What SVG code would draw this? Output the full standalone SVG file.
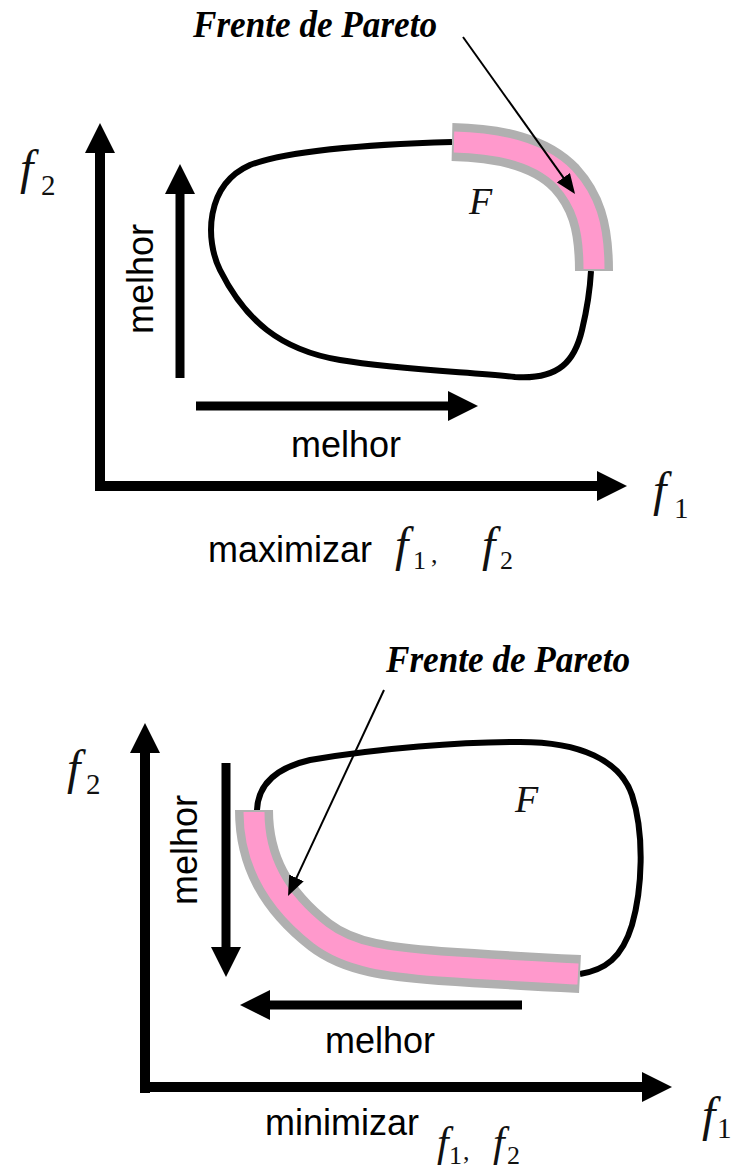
<svg xmlns="http://www.w3.org/2000/svg" width="732" height="1169" viewBox="0 0 732 1169">
<defs>
<marker id="head" markerUnits="userSpaceOnUse" viewBox="0 0 30 30" refX="10" refY="15" markerWidth="30" markerHeight="30" orient="auto">
<path d="M0,0 L30,15 L0,30 Z" fill="#000"/>
</marker>
<marker id="ptr" markerUnits="userSpaceOnUse" viewBox="0 0 20 16" refX="16" refY="8" markerWidth="20" markerHeight="16" orient="auto">
<path d="M0,0 L20,8 L0,16 Z" fill="#000"/>
</marker>
</defs>
<style>
.axis{fill:none;stroke:#000;stroke-width:10;marker-end:url(#head)}
.inner{fill:none;stroke:#000;stroke-width:9;marker-end:url(#head)}
.ptr{fill:none;stroke:#000;stroke-width:2;marker-end:url(#ptr)}
.region{fill:none;stroke:#000;stroke-width:6}
.bandOuter{fill:none;stroke:#b0b0b0;stroke-width:38;stroke-linecap:butt}
.bandInner{fill:none;stroke:#ff99cc;stroke-width:21;stroke-linecap:butt}
.title{font-family:"Liberation Serif",serif;font-weight:bold;font-style:italic;font-size:37px;fill:#000}
.sans{font-family:"Liberation Sans",Arial,sans-serif;font-size:36px;fill:#000}
.math{font-family:"Liberation Serif",serif;font-style:italic;font-size:48px;fill:#111}
.mathc{font-family:"Liberation Serif",serif;font-style:italic;font-size:42px;fill:#111}
.sub{font-family:"Liberation Serif",serif;font-size:29px;fill:#111}
.subc{font-family:"Liberation Serif",serif;font-size:26px;fill:#111}
.F{font-family:"Liberation Serif",serif;font-style:italic;font-size:38px;fill:#111}
</style>

<!-- ===== Top diagram: maximizar ===== -->
<g id="top-region">
<path class="region" d="M452,142 C380,144 290,150 250,165 C205,185 205,240 220,270 C245,320 280,350 340,360 C400,370 470,372 515,377 C560,380 575,360 582,330 C588,305 590,290 591,271"/>
</g>
<g id="top-pareto-front">
<path class="bandOuter" d="M452,142 C500,143 540,152 565,178 C585,200 594,225 594,271"/>
<path class="bandInner" d="M454,142 C500,143 540,152 565,178 C585,200 594,225 594,269"/>
</g>
<g id="top-labels">
<text class="title" x="193" y="37" textLength="244" lengthAdjust="spacingAndGlyphs">Frente de Pareto</text>
<text class="F" x="469" y="214">F</text>
<text class="math" x="20" y="184">f</text><text class="sub" x="41" y="195">2</text>
<text class="math" x="653" y="506">f</text><text class="sub" x="674" y="518">1</text>
<text class="sans" x="153" y="279" text-anchor="middle" transform="rotate(-90 153 279)">melhor</text>
<text class="sans" x="346" y="457" text-anchor="middle">melhor</text>
<text class="sans" x="208" y="562">maximizar</text>
<text class="math" x="395" y="561">f</text><text class="subc" x="413" y="569">1</text><text class="subc" x="431" y="563">,</text>
<text class="math" x="482" y="561">f</text><text class="subc" x="500" y="569">2</text>
</g>
<g id="top-connectors">
<path class="axis" d="M100,491 L100,143"/>
<path class="axis" d="M95,486 L607,486"/>
<path class="inner" d="M180,378 L180,184"/>
<path class="inner" d="M196,406 L458,406"/>
<path class="ptr" d="M463,37 L572.7,190.7"/>
</g>

<!-- ===== Bottom diagram: minimizar ===== -->
<g id="bottom-region">
<path class="region" d="M257,810 C258,785 275,768 310,760 C380,748 460,742 520,742 C580,742 620,760 632,795 C645,835 642,890 632,925 C622,958 605,970 580,974"/>
</g>
<g id="bottom-pareto-front">
<path class="bandOuter" d="M254,810 C254,860 275,900 320,935 C350,958 390,962 440,966 C500,970 540,972 580,974"/>
<path class="bandInner" d="M254,812 C254,860 275,900 320,935 C350,958 390,962 440,966 C500,970 540,972 578,974"/>
</g>
<g id="bottom-labels">
<text class="title" x="386" y="672" textLength="244" lengthAdjust="spacingAndGlyphs">Frente de Pareto</text>
<text class="F" x="515" y="812">F</text>
<text class="math" x="67" y="784">f</text><text class="sub" x="86" y="794">2</text>
<text class="math" x="702" y="1131">f</text><text class="sub" x="717" y="1138">1</text>
<text class="sans" x="197" y="850" text-anchor="middle" transform="rotate(-90 197 850)">melhor</text>
<text class="sans" x="380" y="1053" text-anchor="middle">melhor</text>
<text class="sans" x="265" y="1135">minimizar</text>
<text class="mathc" x="437" y="1156">f</text><text class="subc" x="449" y="1164">1</text><text class="subc" x="463" y="1160">,</text>
<text class="mathc" x="493" y="1156">f</text><text class="subc" x="507" y="1164">2</text>
</g>
<g id="bottom-connectors">
<path class="axis" d="M145,1093 L145,743"/>
<path class="axis" d="M140,1087 L652,1087"/>
<path class="inner" d="M226,763 L226,957"/>
<path class="inner" d="M522,1005 L260,1005"/>
<path class="ptr" d="M384,690 L289.7,892.4"/>
</g>
</svg>
